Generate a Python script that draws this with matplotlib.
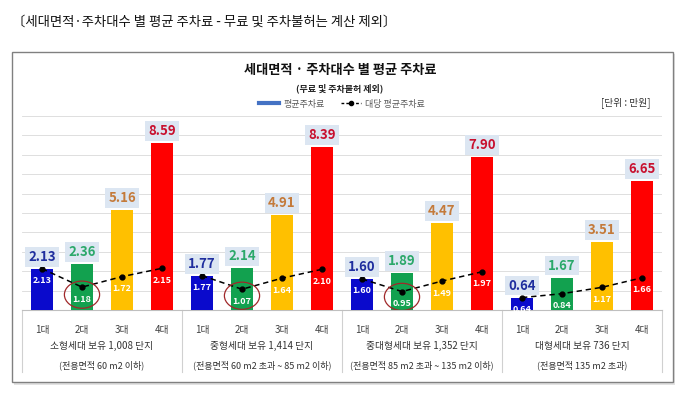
import matplotlib
matplotlib.use("Agg")
import matplotlib.pyplot as plt
from matplotlib.patches import Rectangle, Ellipse
from matplotlib.lines import Line2D
import numpy as np

plt.rcParams['font.family'] = ['Noto Sans CJK KR', 'DejaVu Sans']

# ---------------- data ----------------
car_labels = ["1대", "2대", "3대", "4대"]
group_line1 = ["소형세대 보유 1,008 단지", "중형세대 보유 1,414 단지",
               "중대형세대 보유 1,352 단지", "대형세대 보유 736 단지"]
group_line2 = ["(전용면적 60 m2 이하)", "(전용면적 60 m2 초과 ~ 85 m2 이하)",
               "(전용면적 85 m2 초과 ~ 135 m2 이하)", "(전용면적 135 m2 초과)"]
avg_fee = [
    [2.13, 2.36, 5.16, 8.59],
    [1.77, 2.14, 4.91, 8.39],
    [1.60, 1.89, 4.47, 7.90],
    [0.64, 1.67, 3.51, 6.65],
]
per_car_fee = [
    [2.13, 1.18, 1.72, 2.15],
    [1.77, 1.07, 1.64, 2.10],
    [1.60, 0.95, 1.49, 1.97],
    [0.64, 0.84, 1.17, 1.66],
]
circled = [True, True, True, False]   # 2대 point circled in red

bar_colors = ['#0A0ACC', '#12A14F', '#FFC000', '#FF0000']
label_colors = ['#1F2E9E', '#2BA86A', '#C47A3A', '#C8102E']

# ---------------- figure ----------------
W, H = 680, 408
fig = plt.figure(figsize=(W / 100, H / 100), dpi=100)

def fx(px):
    return px / W

def fy(py):
    return 1 - py / H

# outer title
fig.text(fx(12), fy(22), "〔세대면적·주차대수 별 평균 주차료 - 무료 및 주차불허는 계산 제외〕",
         fontsize=9.6, color='#111111', ha='left', va='center')

# frame with shadow
fig.patches.append(Rectangle((fx(14), fy(385)), fx(661), fy(54) - fy(385),
                             transform=fig.transFigure, facecolor='#e2e2e2', edgecolor='none', zorder=0))
fig.patches.append(Rectangle((fx(12), fy(382)), fx(661), fy(52) - fy(382),
                             transform=fig.transFigure, facecolor='white', edgecolor='#808080',
                             linewidth=1.0, zorder=1))

# titles
fig.text(0.5, fy(70), "세대면적 · 주차대수 별 평균 주차료", fontsize=9.5, fontweight='bold',
         ha='center', va='center', color='#111111', zorder=3)
fig.text(0.5, fy(88), "(무료 및 주차불허 제외)", fontsize=6.5, fontweight='bold',
         ha='center', va='center', color='#222222', zorder=3)
fig.text(fx(626), fy(103), "[단위 : 만원]", fontsize=7, ha='center', va='center',
         color='#333333', zorder=3)

# axes
ax = fig.add_axes([fx(22), fy(310), fx(640), fy(116) - fy(310)], zorder=2)
ax.set_facecolor('none')
n_groups = len(avg_fee)
n_cars = len(car_labels)
xs_all = []
for g in range(n_groups):
    xs = np.arange(n_cars) + g * n_cars
    xs_all.extend(xs)
    ax.bar(xs, avg_fee[g], width=0.54, color=bar_colors, zorder=3)
    for i, (x, v) in enumerate(zip(xs, avg_fee[g])):
        ax.text(x, v + 0.62, f"{v:.2f}", ha='center', va='center', fontsize=9.5,
                fontweight='bold', color=label_colors[i], zorder=5,
                bbox=dict(boxstyle='square,pad=0.22', facecolor='#DCE6F2', edgecolor='none'))
        pv = per_car_fee[g][i]
        ax.text(x, pv - 0.62, f"{pv:.2f}", ha='center', va='center', fontsize=6.5,
                fontweight='bold', color='white', zorder=5)
    ax.plot(xs, per_car_fee[g], color='black', linestyle=(0, (3.5, 2.5)), linewidth=1.1,
            marker='o', markersize=3.5, zorder=4)
    if circled[g]:
        x2 = xs[1]
        v2 = per_car_fee[g][1]
        ax.add_patch(Ellipse((x2, v2 * 0.5 + 0.2), 0.88, 1.4, facecolor='none',
                             edgecolor='#A0282A', linewidth=0.9, zorder=6))

ax.set_xlim(-0.5, n_groups * n_cars - 0.5)
ax.set_ylim(0, 10)
ax.set_yticks(np.arange(1, 11))
ax.set_yticklabels([])
ax.grid(axis='y', color='#d9d9d9', linewidth=0.6, zorder=0)
ax.tick_params(axis='both', length=0)
ax.set_xticks(xs_all)
ax.set_xticklabels(car_labels * n_groups, fontsize=7, color='#404040')
ax.tick_params(axis='x', pad=11)
for s in ['left', 'right', 'top']:
    ax.spines[s].set_visible(False)
ax.spines['bottom'].set_color('#bfbfbf')
ax.spines['bottom'].set_linewidth(0.8)

# table separators below the axis
for b in range(n_groups + 1):
    xb = b * n_cars - 0.5
    ax.plot([xb, xb], [0, -3.2], color='#d0d0d0', linewidth=0.8, clip_on=False, zorder=1)

for g in range(n_groups):
    xc = g * n_cars + (n_cars - 1) / 2
    ax.text(xc, -1.87, group_line1[g], ha='center', va='center', fontsize=7, color='#333333')
    ax.text(xc, -2.85, group_line2[g], ha='center', va='center', fontsize=6.5, color='#333333')

# legend
handles = [Line2D([0], [0], color='#4472C4', linewidth=3),
           Line2D([0], [0], color='black', linestyle=(0, (2, 1.5)), linewidth=1, marker='o', markersize=3)]
fig.legend(handles, ["평균주차료", "대당 평균주차료"], loc='center', bbox_to_anchor=(fx(342), fy(104)),
           ncol=2, frameon=False, fontsize=6.5, labelcolor='#595959', handlelength=2.2,
           columnspacing=1.8, handletextpad=0.5)

fig.savefig("out.png", dpi=100)
